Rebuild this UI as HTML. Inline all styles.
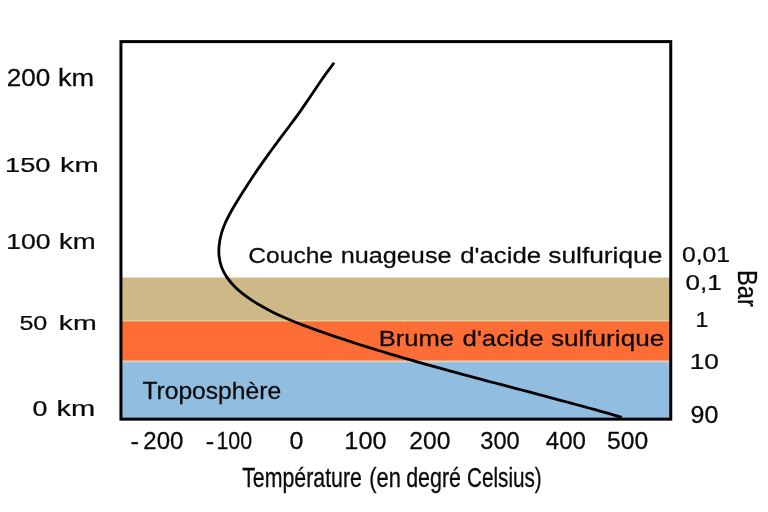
<!DOCTYPE html>
<html><head><meta charset="utf-8"><title>Venus atmosphere</title>
<style>
html,body{margin:0;padding:0;background:#fff;}
body{width:768px;height:512px;overflow:hidden;}
svg{display:block;will-change:transform;}
text{font-family:"Liberation Sans",sans-serif;font-size:200px;fill:#0a0a0a;stroke:#0a0a0a;stroke-width:2.2px;stroke-linejoin:round;}
</style></head><body>
<svg width="768" height="512" viewBox="0 0 768 512">
<rect x="0" y="0" width="768" height="512" fill="#ffffff"/>
<g opacity="0.999">
<rect x="121" y="277.5" width="550" height="44" fill="#ceb888"/>
<rect x="121" y="319.9" width="550" height="2" fill="#e0cfa4"/>
<rect x="121" y="321.4" width="550" height="40" fill="#fd6d35"/>
<rect x="121" y="360.4" width="550" height="2.5" fill="#dccfb6"/>
<rect x="121" y="362.4" width="550" height="57" fill="#91bde1"/>
<path d="M334.08,62.73 C332.94,64.26 329.48,68.83 327.25,71.92 C325.02,75.01 322.84,78.14 320.68,81.27 C318.52,84.40 316.40,87.57 314.27,90.72 C312.14,93.87 310.03,97.04 307.89,100.18 C305.75,103.33 303.62,106.48 301.43,109.59 C299.25,112.70 297.03,115.79 294.78,118.86 C292.53,121.93 290.23,124.95 287.94,128.0 C285.65,131.05 283.33,134.08 281.04,137.14 C278.75,140.19 276.47,143.26 274.21,146.33 C271.95,149.40 269.69,152.48 267.47,155.57 C265.25,158.66 263.05,161.76 260.88,164.88 C258.71,168.00 256.57,171.12 254.46,174.26 C252.35,177.40 250.26,180.56 248.2,183.74 C246.14,186.92 244.11,190.11 242.09,193.33 C240.07,196.55 238.06,199.79 236.09,203.07 C234.12,206.35 232.11,209.64 230.28,213.01 C228.45,216.38 226.63,219.78 225.13,223.31 C223.62,226.84 222.25,230.47 221.25,234.16 C220.25,237.84 219.48,241.67 219.13,245.42 C218.78,249.17 218.72,252.99 219.15,256.66 C219.58,260.33 220.40,263.99 221.7,267.44 C223.00,270.89 224.87,274.23 226.97,277.35 C229.07,280.47 231.64,283.42 234.3,286.17 C236.96,288.92 239.93,291.44 242.95,293.84 C245.97,296.24 249.19,298.45 252.41,300.57 C255.63,302.69 258.93,304.67 262.25,306.56 C265.57,308.45 268.93,310.23 272.33,311.94 C275.73,313.65 279.17,315.25 282.63,316.81 C286.09,318.37 289.59,319.84 293.1,321.27 C296.61,322.70 300.15,324.07 303.7,325.41 C307.25,326.75 310.82,328.05 314.4,329.34 C317.97,330.63 321.56,331.88 325.15,333.13 C328.74,334.38 332.34,335.61 335.95,336.83 C339.56,338.05 343.17,339.25 346.79,340.44 C350.41,341.63 354.03,342.80 357.66,343.96 C361.29,345.12 364.92,346.27 368.56,347.4 C372.20,348.53 375.84,349.65 379.49,350.76 C383.14,351.87 386.79,352.96 390.44,354.05 C394.09,355.14 397.75,356.22 401.41,357.29 C405.07,358.36 408.73,359.41 412.39,360.46 C416.05,361.51 419.71,362.55 423.38,363.58 C427.05,364.61 430.72,365.63 434.39,366.65 C438.06,367.67 441.73,368.68 445.4,369.69 C449.07,370.70 452.75,371.69 456.42,372.69 C460.10,373.69 463.77,374.68 467.45,375.66 C471.13,376.65 474.81,377.62 478.49,378.6 C482.17,379.58 485.85,380.55 489.53,381.53 C493.21,382.50 496.89,383.48 500.57,384.45 C504.25,385.42 507.94,386.39 511.62,387.36 C515.30,388.33 518.98,389.29 522.66,390.26 C526.34,391.23 530.03,392.21 533.71,393.18 C537.39,394.15 541.07,395.12 544.75,396.1 C548.43,397.08 552.11,398.05 555.79,399.03 C559.47,400.01 563.14,401.00 566.82,401.99 C570.50,402.98 574.18,403.98 577.85,404.98 C581.52,405.98 585.20,406.99 588.87,408.0 C592.54,409.01 596.22,410.03 599.89,411.05 C603.56,412.07 607.23,413.11 610.89,414.15 C614.55,415.19 620.05,416.77 621.88,417.3" fill="none" stroke="#000" stroke-width="2.8" stroke-linecap="butt" stroke-linejoin="round"/>
<rect x="120.95" y="41.6" width="549.8" height="377.55" fill="none" stroke="#000" stroke-width="3"/>
<text transform="matrix(0.13038 0 0 0.11549 6.696 85.569)">200</text>
<text transform="matrix(0.13568 0 0 0.11549 58.036 85.569)">km</text>
<text transform="matrix(0.13666 0 0 0.10176 4.950 172.046)">150</text>
<text transform="matrix(0.14564 0 0 0.10176 60.007 172.046)">km</text>
<text transform="matrix(0.13280 0 0 0.11056 6.208 249.279)">100</text>
<text transform="matrix(0.13776 0 0 0.11056 59.009 249.279)">km</text>
<text transform="matrix(0.12560 0 0 0.10211 19.395 330.046)">50</text>
<text transform="matrix(0.14274 0 0 0.10211 58.644 330.046)">km</text>
<text transform="matrix(0.13437 0 0 0.10599 32.425 416.038)">0</text>
<text transform="matrix(0.14564 0 0 0.10599 56.507 416.038)">km</text>
<text transform="matrix(0.12366 0 0 0.10915 682.011 261.782)">0,01</text>
<text transform="matrix(0.13027 0 0 0.10915 685.458 289.782)">0,1</text>
<text transform="matrix(0.11494 0 0 0.10870 695.526 327.000)">1</text>
<text transform="matrix(0.13100 0 0 0.11197 689.735 369.276)">10</text>
<text transform="matrix(0.12476 0 0 0.11761 690.577 423.065)">90</text>
<text transform="matrix(0.12025 0 0 0.12324 143.297 448.754)">200</text>
<text transform="matrix(0.12755 0 0 0.12324 130.602 448.754)">-</text>
<text transform="matrix(0.10691 0 0 0.12324 216.396 448.754)">100</text>
<text transform="matrix(0.12653 0 0 0.12324 205.861 448.754)">-</text>
<text transform="matrix(0.12500 0 0 0.12324 289.500 448.754)">0</text>
<text transform="matrix(0.12621 0 0 0.12324 344.357 448.754)">100</text>
<text transform="matrix(0.12342 0 0 0.12324 409.266 448.754)">200</text>
<text transform="matrix(0.11792 0 0 0.12324 480.307 448.754)">300</text>
<text transform="matrix(0.12034 0 0 0.12324 545.769 448.754)">400</text>
<text transform="matrix(0.12343 0 0 0.12324 607.013 448.754)">500</text>
<text transform="matrix(0.10667 0 0 0.13551 242.173 487.200)">Température</text>
<text transform="matrix(0.10947 0 0 0.13551 369.286 487.200)">(en</text>
<text transform="matrix(0.10729 0 0 0.13551 406.142 487.200)">degré</text>
<text transform="matrix(0.10357 0 0 0.13551 466.964 487.200)">Celsius)</text>
<text transform="matrix(0.12284 0 0 0.11479 248.372 263.370)">Couche</text>
<text transform="matrix(0.12629 0 0 0.11479 340.658 263.370)">nuageuse</text>
<text transform="matrix(0.12910 0 0 0.11479 460.217 263.370)">d'acide</text>
<text transform="matrix(0.13175 0 0 0.11479 548.210 263.370)">sulfurique</text>
<text transform="matrix(0.12775 0 0 0.11449 378.656 346.200)">Brume</text>
<text transform="matrix(0.12902 0 0 0.11449 462.568 346.200)">d'acide</text>
<text transform="matrix(0.13075 0 0 0.11449 550.915 346.200)">sulfurique</text>
<text transform="matrix(0.12318 0 0 0.11594 142.407 398.700)">Troposphère</text>
<text transform="matrix(0 0.11815 -0.13406 0 738.000 270.110)">Bar</text>
</g>
</svg>
</body></html>
